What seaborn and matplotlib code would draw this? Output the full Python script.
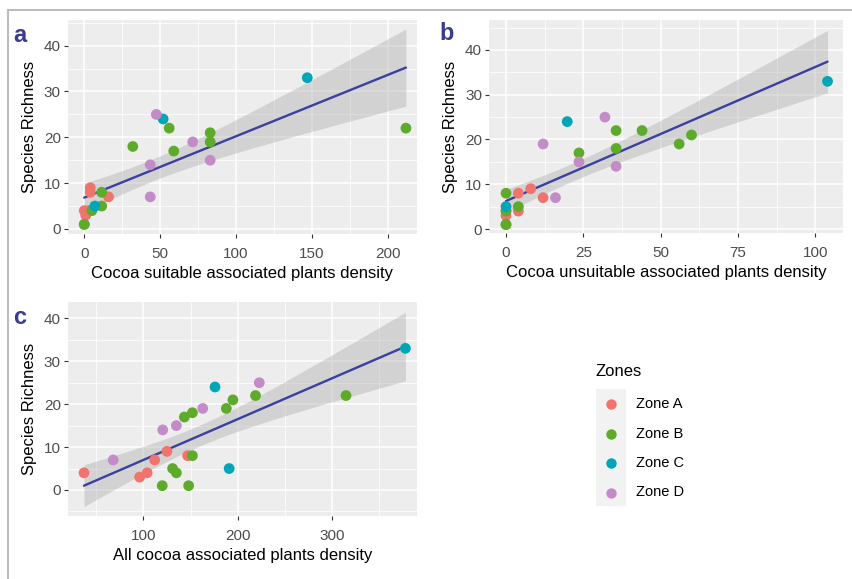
import numpy as np
import pandas as pd
import matplotlib
matplotlib.use("Agg")
import matplotlib.pyplot as plt
from matplotlib.lines import Line2D
from matplotlib.patches import Rectangle
from matplotlib.ticker import MultipleLocator
import seaborn as sns

# ---------------- data ----------------
zones = ["Zone A"] * 6 + ["Zone B"] * 11 + ["Zone C"] * 3 + ["Zone D"] * 5
richness = [9, 8, 7, 4, 4, 3,
            22, 22, 21, 19, 18, 17, 8, 5, 4, 1, 1,
            33, 24, 5,
            25, 19, 15, 14, 7]
suitable = [4, 4, 16, 0, 3, 1,
            56, 212, 83, 83, 32, 59, 11.5, 11.5, 5, 0, 0,
            147, 52, 7,
            47.5, 71.5, 83, 43.5, 43.5]
unsuitable = [8, 4, 12, 0, 4, 0,
              35.6, 44, 60, 56, 35.6, 23.6, 0, 4, 0, 0, 0,
              104, 19.8, 0,
              32, 12, 23.6, 35.6, 16]
all_density = [125, 147, 112, 37, 104, 96,
               219, 315, 195, 188, 152, 143.5, 152, 131, 135, 120, 148,
               378, 176, 191,
               223, 163, 135, 120.5, 68]
zone_order = ["Zone A", "Zone B", "Zone C", "Zone D"]
zone_colors = ["#F0736E", "#5EAB2C", "#00A6B8", "#C48BC9"]

df = pd.DataFrame({"zone": zones, "richness": richness, "suitable": suitable,
                   "unsuitable": unsuitable, "all": all_density})

sns.set_style("white")
plt.rcParams["font.family"] = ["Liberation Sans", "DejaVu Sans"]

W, H = 852, 579
fig = plt.figure(figsize=(W / 100, H / 100), dpi=100)


def rect(l, r, t, b):
    return [l / W, 1 - b / H, (r - l) / W, (b - t) / H]


def lm_band(x, y, n_grid=100, tcrit=2.069):
    """95% confidence band of a simple linear fit (like ggplot's geom_smooth(method='lm'))."""
    x = np.asarray(x, float)
    y = np.asarray(y, float)
    n = len(x)
    b1, b0 = np.polyfit(x, y, 1)
    resid = y - (b0 + b1 * x)
    s = np.sqrt(np.sum(resid ** 2) / (n - 2))
    xg = np.linspace(x.min(), x.max(), n_grid)
    se = s * np.sqrt(1 / n + (xg - x.mean()) ** 2 / np.sum((x - x.mean()) ** 2))
    yg = b0 + b1 * xg
    return xg, yg - tcrit * se, yg + tcrit * se


panels = [
    dict(col="suitable", rect=rect(67.7, 417, 20, 234), xlim=(-10.9, 219.3), ylim=(-1.1, 45.6),
         xmaj=50, xmin=25, label="Cocoa suitable associated plants density", tag="a", tagpos=(20, 35)),
    dict(col="unsuitable", rect=rect(489, 843, 20, 233.3), xlim=(-5.5, 109), ylim=(-0.96, 46.7),
         xmaj=25, xmin=12.5, label="Cocoa unsuitable associated plants density", tag="b", tagpos=(447, 33)),
    dict(col="all", rect=rect(67.7, 416.7, 302, 516), xlim=(19.7, 390), ylim=(-6.06, 43.8),
         xmaj=100, xmin=50, label="All cocoa associated plants density", tag="c", tagpos=(20, 318)),
]

pal = dict(zip(zone_order, zone_colors))

for p in panels:
    ax = fig.add_axes(p["rect"])
    ax.set_facecolor("#EDEDED")
    for s in ax.spines.values():
        s.set_visible(False)
    ax.set_xlim(*p["xlim"])
    ax.set_ylim(*p["ylim"])
    ax.xaxis.set_major_locator(MultipleLocator(p["xmaj"]))
    ax.xaxis.set_minor_locator(MultipleLocator(p["xmin"]))
    ax.yaxis.set_major_locator(MultipleLocator(10))
    ax.yaxis.set_minor_locator(MultipleLocator(5))
    ax.grid(True, which="major", color="white", lw=1.1)
    ax.grid(True, which="minor", color="white", lw=0.55)
    ax.set_axisbelow(True)

    # confidence ribbon (grey) and fitted line (navy)
    xg, lo, hi = lm_band(df[p["col"]], df["richness"])
    ax.fill_between(xg, lo, hi, color="#999999", alpha=0.32, lw=0, zorder=2)
    sns.regplot(data=df, x=p["col"], y="richness", scatter=False, ci=None, ax=ax,
                color="#3B3F9E", line_kws={"lw": 1.7, "zorder": 3})
    sns.scatterplot(data=df, x=p["col"], y="richness", hue="zone", hue_order=zone_order,
                    palette=pal, s=60, edgecolor="none", legend=False, ax=ax, zorder=4)
    ax.set_xlim(*p["xlim"])
    ax.set_ylim(*p["ylim"])

    ax.tick_params(which="major", length=3, color="#333333", labelcolor="#4D4D4D",
                   labelsize=11, pad=2, bottom=True, left=True)
    ax.tick_params(axis="x", which="major", pad=6)
    ax.tick_params(which="minor", length=0)
    ax.set_xlabel(p["label"], fontsize=12, color="black")
    ax.set_ylabel("Species Richness", fontsize=12, color="black")
    ax.xaxis.set_label_coords(0.5, -0.15)
    ax.yaxis.set_label_coords(-0.088, 0.5)
    ax.xaxis.label.set_va("top")

    fig.text(p["tagpos"][0] / W, 1 - p["tagpos"][1] / H, p["tag"], fontsize=17,
             fontweight="bold", color="#3B3B8F", ha="center", va="center")

# ---------------- legend ----------------
fig.text(596 / W, 1 - 372 / H, "Zones", fontsize=12, ha="left", va="center", color="black")
fig.add_artist(Rectangle((596 / W, 1 - 506 / H), 30 / W, (506 - 389) / H,
                         transform=fig.transFigure, facecolor="#F2F2F2", edgecolor="none"))
for i, (z, c) in enumerate(zip(zone_order, zone_colors)):
    yy = 1 - (404 + i * 29.5) / H
    fig.add_artist(Line2D([611 / W], [yy], marker="o", markersize=7.5, color=c,
                          markeredgecolor="none", linestyle="none", transform=fig.transFigure))
    fig.text(636 / W, yy, z, fontsize=10.5, ha="left", va="center", color="black")

# ---------------- outer frame ----------------
fig.add_artist(Line2D([8 / W, 8 / W], [0, 1 - 10 / H], color="#BDBDBD", lw=1.5,
                      transform=fig.transFigure))
fig.add_artist(Line2D([8 / W, 1], [1 - 10 / H, 1 - 10 / H], color="#BDBDBD", lw=1.5,
                      transform=fig.transFigure))

fig.savefig("out.png", dpi=100)
